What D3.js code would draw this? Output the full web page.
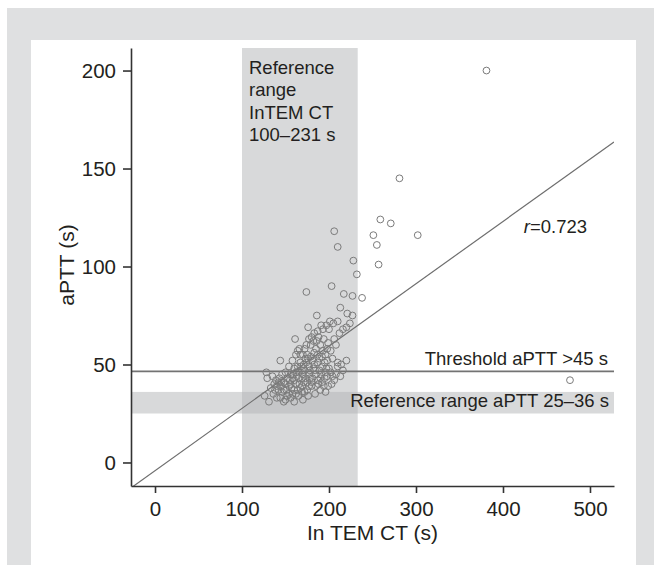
<!DOCTYPE html>
<html>
<head>
<meta charset="utf-8">
<script src="https://cdn.jsdelivr.net/npm/d3@7"></script>
<style>
    body { margin: 0; background: #fff; }
    svg text { font-family: "Liberation Sans", Arial, sans-serif; fill: #231f20; }
</style>
</head>
<body>
<svg id="chart"></svg>
<script>
// InTEM CT (s) vs aPTT (s)
const points = [
    [381, 200], [281, 145], [259, 124], [271, 122], [251, 116], [302, 116], [255, 111], [257, 101],
    [206, 118], [210, 110], [228, 103], [232, 96], [238, 84], [174, 87], [203, 90], [217, 86],
    [227, 85], [213, 79], [221, 76], [227, 75], [186, 75], [224, 71], [477, 42],
    [191, 70], [201, 72], [205, 71], [210, 72], [197, 70], [187, 67], [183, 66], [193, 68],
    [200, 68], [176, 69], [177, 63], [182, 62], [179, 60], [186, 62], [190, 60], [193, 57],
    [202, 57], [196, 55], [172, 58], [167, 55], [175, 55], [161, 63], [164, 57], [144, 52], [154, 49],
    [210, 51], [210, 49], [204, 44], [199, 39], [192, 41], [185, 39], [180, 39], [169, 39],
    [164, 37], [158, 35], [152, 34], [146, 36], [142, 41], [146, 45], [140, 39], [154, 39],
    [160, 42], [165, 43], [173, 43], [177, 45], [169, 47], [162, 46], [156, 45], [152, 43],
    [148, 41], [177, 49], [171, 50], [167, 51], [173, 53], [181, 52], [187, 51], [192, 49],
    [189, 47], [185, 45], [196, 46], [200, 48], [204, 53], [198, 52], [192, 54], [187, 55],
    [183, 56], [179, 54], [164, 49], [160, 48], [165, 46], [169, 43], [175, 41], [181, 43],
    [187, 42], [190, 43], [194, 39], [175, 37], [169, 36], [165, 34], [160, 37], [154, 35],
    [148, 37], [142, 37], [137, 40], [138, 37], [144, 33], [150, 32], [156, 33], [162, 35],
    [126, 34], [128, 46], [129, 43], [131, 31],
    [170, 45], [172, 47], [168, 49], [174, 51], [178, 47], [182, 48], [183, 50], [176, 53],
    [170, 55], [185, 58], [189, 53], [195, 51], [197, 48], [202, 46], [206, 42], [208, 45],
    [195, 43], [191, 45], [180, 41], [177, 39], [171, 41], [166, 40], [162, 40], [158, 43],
    [156, 40], [150, 40], [145, 39], [139, 42], [135, 44], [133, 38], [158, 52], [162, 55],
    [166, 58], [174, 60], [180, 64], [188, 64], [194, 63], [199, 61], [206, 63], [212, 66],
    [216, 68], [220, 69], [208, 60], [198, 58], [214, 50], [216, 47], [220, 52], [213, 44],
    [184, 35], [190, 37], [196, 36], [176, 34], [170, 32], [160, 31], [148, 31], [140, 33],
    [136, 35], [143, 43], [150, 46], [157, 38], [163, 44], [167, 38], [172, 36], [178, 43],
    [184, 47], [188, 40], [198, 44], [203, 40], [151, 37], [155, 42], [159, 45], [145, 41]
];

const xTicks = [0, 100, 200, 300, 400, 500];
const yTicks = [0, 50, 100, 150, 200];
const xDomain = [-27.6, 527.6];
const yDomain = [-12, 211.5];

const ctRange = [100, 233];        // shaded InTEM CT reference range
const apttRange = [25, 36];        // shaded aPTT reference range
const threshold = 46.5;            // threshold line
const fit = { intercept: -4.2, slope: 0.318 };

const ctRangeLabel = ['Reference', 'range', 'InTEM CT', '100–231 s'];
const thresholdLabel = 'Threshold aPTT >45 s';
const apttRangeLabel = 'Reference range aPTT 25–36 s';
const rLabelPos = [424, 117];

const width = 654;
const height = 565;
const plot = { left: 131, right: 614, top: 48, bottom: 486 };

const svg = d3.select('#chart')
    .attr('width', width)
    .attr('height', height);

// page frame
svg.append('rect')
    .attr('x', 7).attr('y', 8)
    .attr('width', width - 7).attr('height', height - 8)
    .attr('fill', '#dfe0e1');
svg.append('rect')
    .attr('x', 31).attr('y', 40)
    .attr('width', 605).attr('height', height - 40)
    .attr('fill', '#fff');

const x = d3.scaleLinear().domain(xDomain).range([plot.left, plot.right]);
const y = d3.scaleLinear().domain(yDomain).range([plot.bottom, plot.top]);

svg.append('defs').append('clipPath')
    .attr('id', 'clip')
  .append('rect')
    .attr('x', plot.left).attr('y', plot.top)
    .attr('width', plot.right - plot.left)
    .attr('height', plot.bottom - plot.top);

const bandFill = '#b1b3b6';

svg.append('rect')
    .attr('x', x(ctRange[0]))
    .attr('y', plot.top)
    .attr('width', x(ctRange[1]) - x(ctRange[0]))
    .attr('height', plot.bottom - plot.top)
    .attr('fill', bandFill)
    .attr('fill-opacity', 0.5);

svg.append('rect')
    .attr('x', plot.left)
    .attr('y', y(apttRange[1]))
    .attr('width', plot.right - plot.left)
    .attr('height', y(apttRange[0]) - y(apttRange[1]))
    .attr('fill', bandFill)
    .attr('fill-opacity', 0.5);

// threshold
svg.append('line')
    .attr('x1', plot.left).attr('x2', plot.right)
    .attr('y1', y(threshold)).attr('y2', y(threshold))
    .attr('stroke', '#737373')
    .attr('stroke-width', 1.8);

// regression line
svg.append('line')
    .attr('clip-path', 'url(#clip)')
    .attr('x1', x(xDomain[0])).attr('y1', y(fit.intercept + fit.slope * xDomain[0]))
    .attr('x2', x(xDomain[1])).attr('y2', y(fit.intercept + fit.slope * xDomain[1]))
    .attr('stroke', '#6e6e6e')
    .attr('stroke-width', 1.2);

svg.append('g')
    .selectAll('circle')
    .data(points)
    .join('circle')
        .attr('cx', d => x(d[0]))
        .attr('cy', d => y(d[1]))
        .attr('r', 3.4)
        .attr('fill', 'none')
        .attr('stroke', '#7b7b7b')
        .attr('stroke-width', 1);

// axes
const xAxis = svg.append('g')
    .attr('transform', `translate(0,${plot.bottom})`)
    .call(d3.axisBottom(x).tickValues(xTicks).tickSize(7).tickSizeOuter(0).tickPadding(8));

const yAxis = svg.append('g')
    .attr('transform', `translate(${plot.left},0)`)
    .call(d3.axisLeft(y).tickValues(yTicks).tickSize(8).tickSizeOuter(0).tickPadding(7));

[xAxis, yAxis].forEach(g => {
    g.select('.domain').attr('stroke', '#333').attr('stroke-width', 1.6);
    g.selectAll('.tick line').attr('stroke', '#333').attr('stroke-width', 1.6);
    g.selectAll('.tick text')
        .attr('fill', '#231f20')
        .style('font-size', '20.5px');
});

svg.append('text')
    .attr('x', (plot.left + plot.right) / 2)
    .attr('y', 540)
    .attr('text-anchor', 'middle')
    .style('font-size', '21px')
    .text('In TEM CT (s)');

svg.append('text')
    .attr('transform', 'translate(74,265) rotate(-90)')
    .attr('text-anchor', 'middle')
    .style('font-size', '21px')
    .text('aPTT (s)');

// annotations
svg.append('text')
    .attr('x', x(ctRange[0]) + 7)
    .attr('y', plot.top + 26)
    .style('font-size', '18.5px')
    .selectAll('tspan')
    .data(ctRangeLabel)
    .join('tspan')
        .attr('x', x(ctRange[0]) + 7)
        .attr('dy', (d, i) => i === 0 ? 0 : 22.3)
        .text(d => d);

svg.append('text')
    .attr('x', plot.right - 6)
    .attr('y', y(threshold) - 6)
    .attr('text-anchor', 'end')
    .style('font-size', '18.5px')
    .text(thresholdLabel);

svg.append('text')
    .attr('x', plot.right - 5)
    .attr('y', y(apttRange[0]) - 6)
    .attr('text-anchor', 'end')
    .style('font-size', '18.5px')
    .text(apttRangeLabel);

const rText = svg.append('text')
    .attr('x', x(rLabelPos[0]))
    .attr('y', y(rLabelPos[1]))
    .style('font-size', '18.5px');
rText.append('tspan').style('font-style', 'italic').text('r');
rText.append('tspan').text('=0.723');
</script>
</body>
</html>
